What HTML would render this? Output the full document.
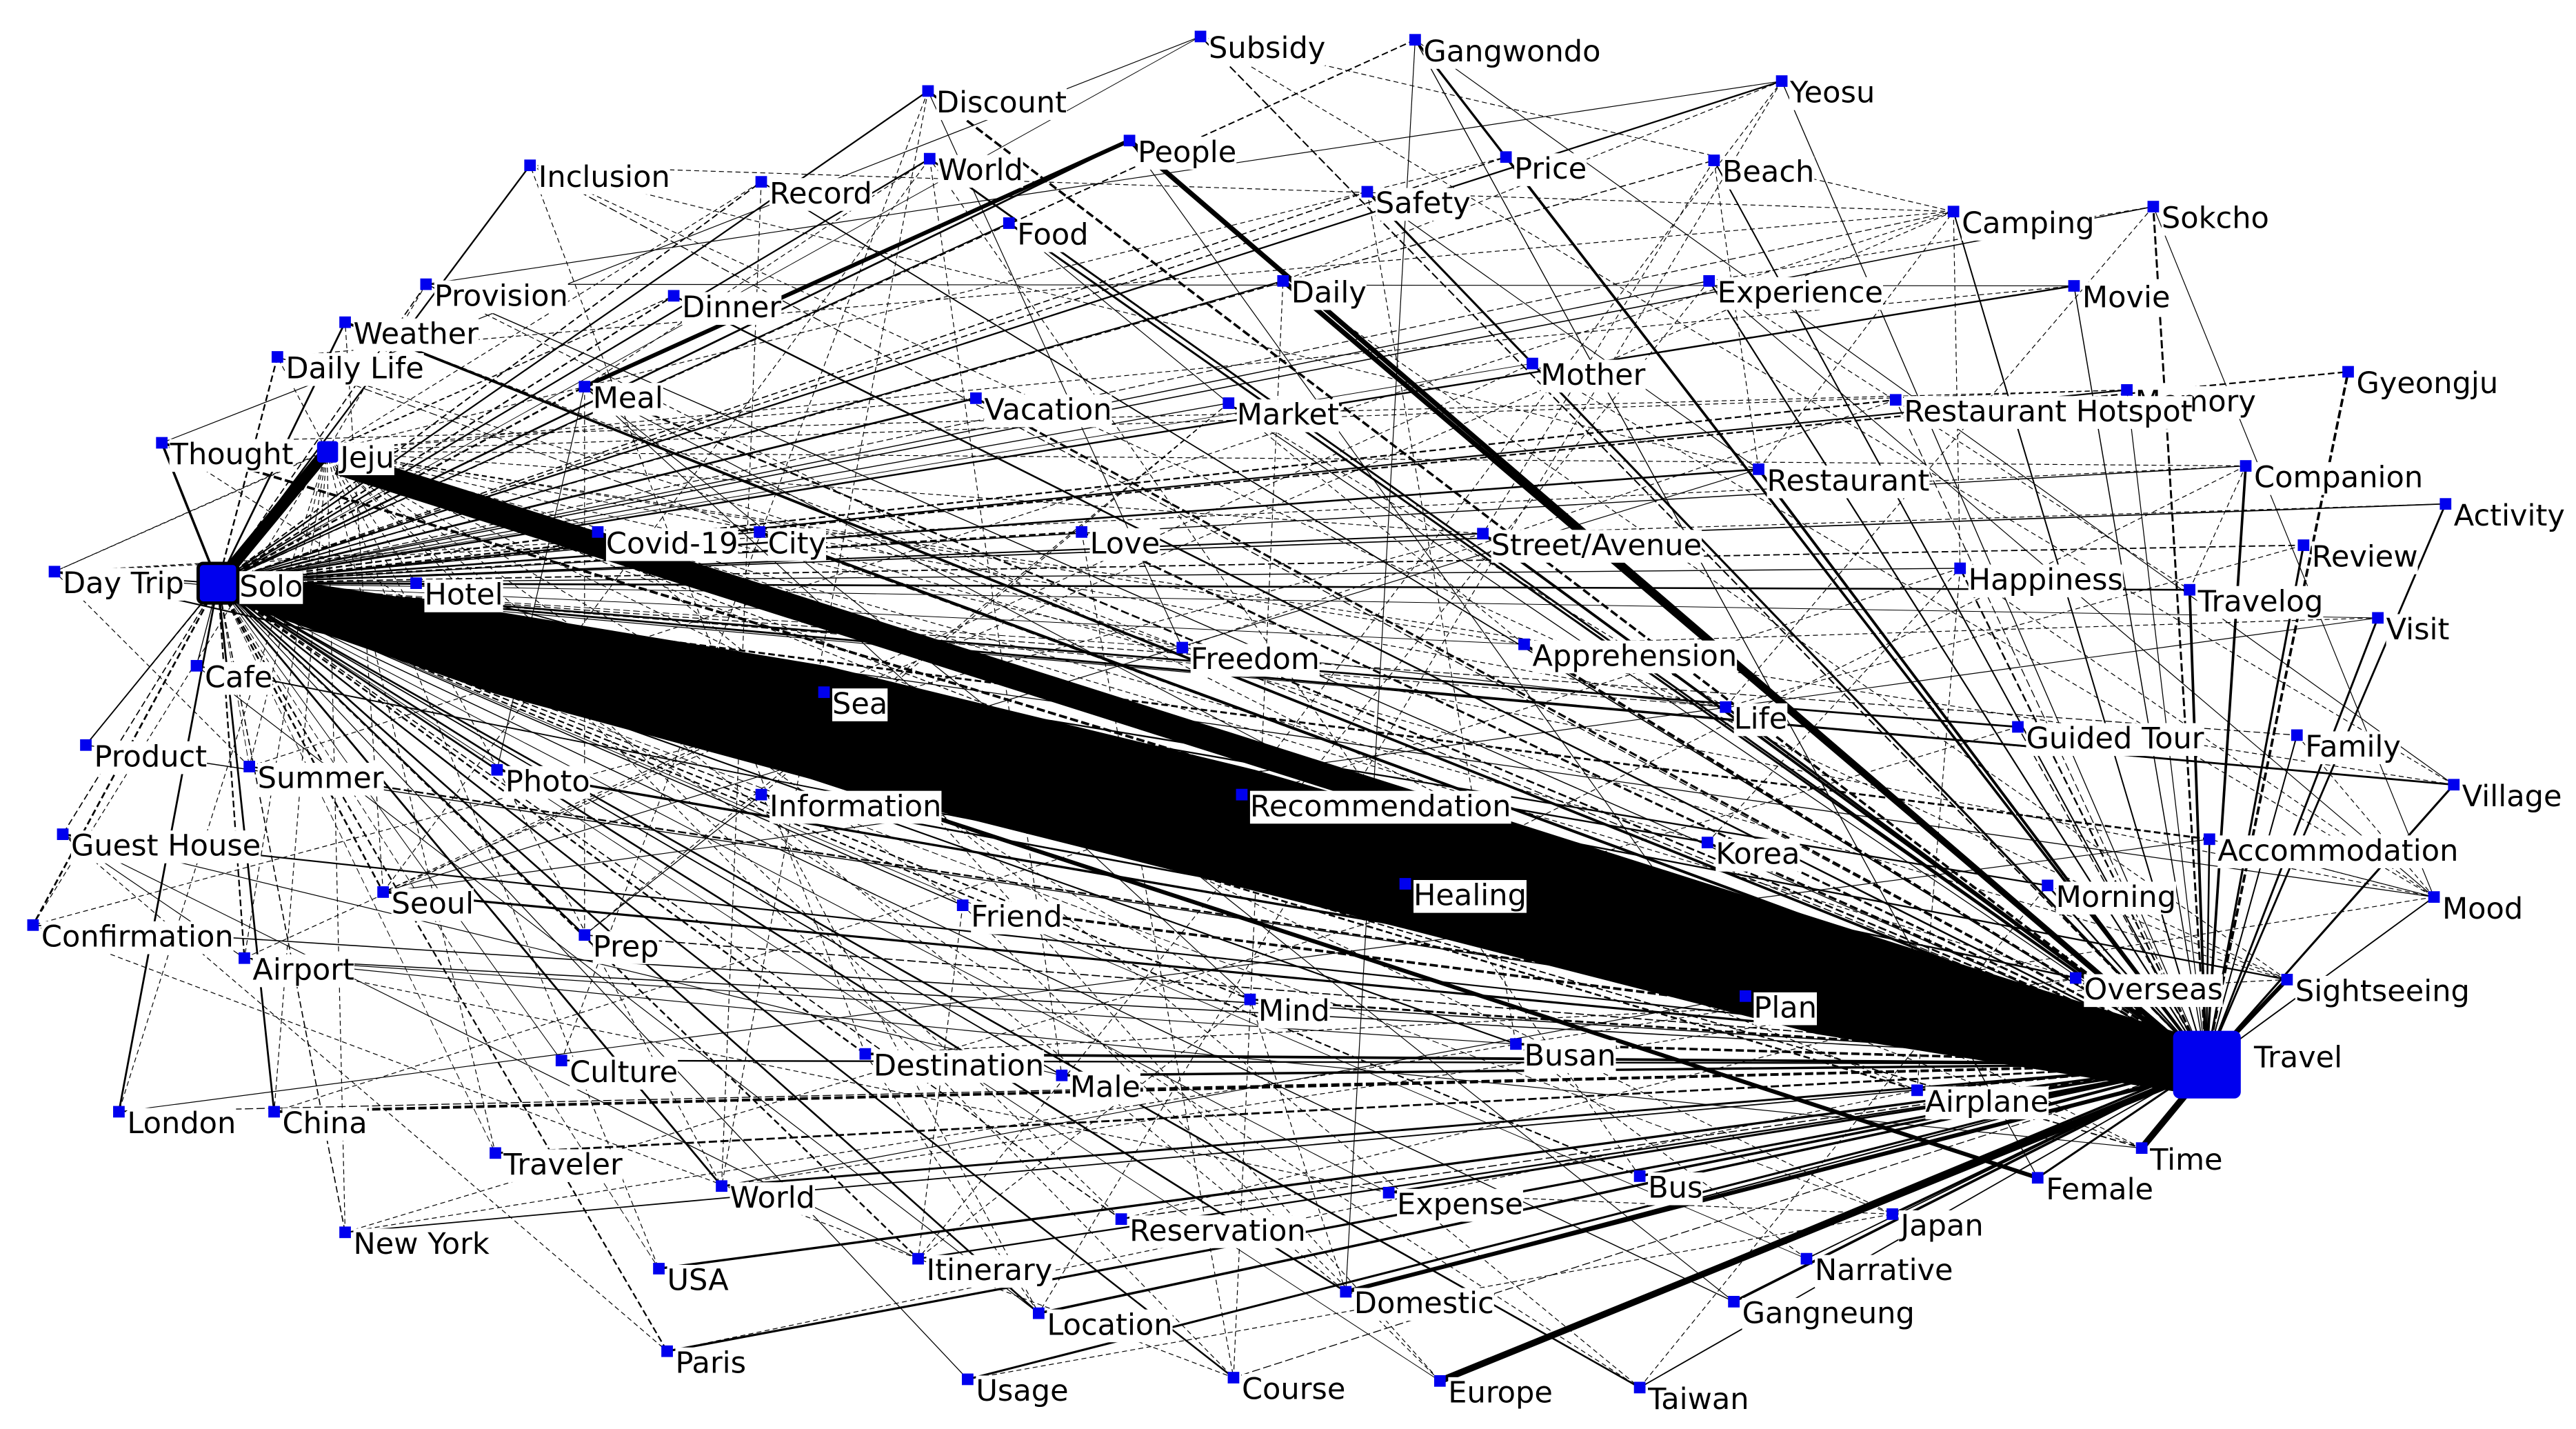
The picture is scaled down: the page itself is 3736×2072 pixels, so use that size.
<!DOCTYPE html>
<html><head><meta charset="utf-8"><style>
html,body{margin:0;padding:0;background:#fff;width:3736px;height:2072px;overflow:hidden}
svg{display:block}
text{font-family:"DejaVu Sans","Liberation Sans",sans-serif;font-size:18px;fill:#000}
</style></head><body>
<svg id="s" width="3736" height="2072" viewBox="0 0 1560 865" xmlns="http://www.w3.org/2000/svg">
<g id="edges"></g>
<g id="bands" fill="#000">
<polygon points="140,346 300,370 500,403 760,466 1050,550 1320,628 1325,662 1100,626 850,562 500,474 300,420 140,364"/>
<line x1="205" y1="280" x2="1325" y2="635" stroke="#000" stroke-width="15"/>
<line x1="132" y1="353" x2="198" y2="273" stroke="#000" stroke-width="7"/>
<line x1="684" y1="85" x2="354" y2="234" stroke="#000" stroke-width="2.5"/>
<line x1="684" y1="85" x2="1330" y2="640" stroke="#000" stroke-width="3"/>
<line x1="777" y1="170" x2="1330" y2="640" stroke="#000" stroke-width="3"/>
<line x1="132" y1="353" x2="1234" y2="713" stroke="#000" stroke-width="2.5"/>
<line x1="872" y1="836" x2="1330" y2="650" stroke="#000" stroke-width="4"/>
<line x1="815" y1="782" x2="1330" y2="650" stroke="#000" stroke-width="2.5"/>
<line x1="1297" y1="695" x2="1330" y2="655" stroke="#000" stroke-width="4"/>
<line x1="1385" y1="593" x2="1345" y2="635" stroke="#000" stroke-width="2.5"/>
<line x1="98" y1="268" x2="132" y2="353" stroke="#000" stroke-width="1.5"/>
</g>
<g id="nodes"></g>
<g id="labels"></g>
</svg>
<script>
var N=[["Subsidy",727,22],["Gangwondo",857,24],["Discount",562,55],["Yeosu",1079,49],["People",684,85],["World",563,96],["Price",912,95],["Beach",1038,97],["Inclusion",321,100],["Record",461,110],["Safety",828,116],["Camping",1183,128],["Sokcho",1304,125],["Food",611,135],["Daily",777,170],["Experience",1035,170],["Movie",1256,173],["Provision",258,172],["Dinner",408,179],["Weather",209,195],["Daily Life",168,216],["Mother",928,220],["Gyeongju",1422,225],["Meal",354,234],["Memory",1288,236],["Vacation",591,241],["Market",744,244],["Restaurant Hotspot",1148,242],["Thought",98,268],["Restaurant",1065,284],["Companion",1360,282],["Activity",1481,305],["Covid-19",362,322],["City",460,322],["Love",655,322],["Street/Avenue",898,323],["Review",1395,330],["Day Trip",33,346],["Hotel",252,353],["Happiness",1187,344],["Travelog",1326,357],["Visit",1440,374],["Freedom",716,392],["Apprehension",923,390],["Cafe",119,403],["Sea",499,419],["Life",1045,428],["Guided Tour",1222,440],["Family",1391,445],["Product",52,451],["Summer",151,464],["Photo",301,466],["Village",1486,475],["Information",461,481],["Recommendation",752,481],["Accommodation",1338,508],["Guest House",38,505],["Korea",1034,510],["Healing",851,535],["Morning",1240,536],["Seoul",232,540],["Mood",1474,543],["Friend",583,548],["Confirmation",20,560],["Prep",354,566],["Airport",148,580],["Overseas",1257,592],["Sightseeing",1385,593],["Plan",1057,603],["Mind",757,605],["Busan",918,632],["Culture",340,642],["Destination",524,638],["Male",643,651],["Airplane",1161,660],["London",72,673],["China",166,673],["Traveler",300,698],["Time",1297,695],["Bus",993,712],["Female",1234,713],["World",437,718],["Expense",841,722],["Reservation",679,738],["New York",209,746],["Japan",1146,735],["Itinerary",556,762],["Narrative",1094,762],["USA",399,768],["Domestic",815,782],["Gangneung",1050,788],["Location",629,795],["Paris",404,818],["Usage",586,835],["Course",747,834],["Europe",872,836],["Taiwan",993,840]];
var NS="http://www.w3.org/2000/svg";
function el(t,a,p){var e=document.createElementNS(NS,t);for(var k in a)e.setAttribute(k,a[k]);p.appendChild(e);return e;}
var E=document.getElementById("edges"),G=document.getElementById("nodes"),L=document.getElementById("labels");
var seed=7;function r(){seed=(seed*16807)%2147483647;return seed/2147483647;}
var S=[132,353],T=[1336,644],J=[198,273];
N.forEach(function(n){
 el("line",{x1:S[0],y1:S[1],x2:n[1],y2:n[2],stroke:"#000","stroke-width":(0.4+r()*0.8).toFixed(2),"stroke-dasharray":r()<0.5?"4,2":"none"},E);
 el("line",{x1:T[0],y1:T[1],x2:n[1],y2:n[2],stroke:"#000","stroke-width":(0.5+r()*1.2).toFixed(2),"stroke-dasharray":r()<0.3?"5,2":"none"},E);
 if(r()<0.35)el("line",{x1:J[0],y1:J[1],x2:n[1],y2:n[2],stroke:"#000","stroke-width":"0.5","stroke-dasharray":"3,2"},E);
});
for(var i=0;i<120;i++){var a=N[Math.floor(r()*N.length)],b=N[Math.floor(r()*N.length)];if(a===b)continue;
 el("line",{x1:a[1],y1:a[2],x2:b[1],y2:b[2],stroke:"#000","stroke-width":"0.5","stroke-dasharray":r()<0.75?"3,2":"none"},E);}
N.forEach(function(n){
 el("rect",{x:n[1]-3.5,y:n[2]-3.5,width:7,height:7,fill:"#0000ee"},G);
 var t=el("text",{x:n[1]+5,y:n[2]+13},L);t.textContent=n[0];
});
el("rect",{x:120,y:341,width:24,height:24,rx:3,fill:"#0000ee",stroke:"#000","stroke-width":2},G);
el("rect",{x:192,y:267,width:13,height:13,rx:2,fill:"#0000ee"},G);
el("rect",{x:1316,y:624,width:41,height:41,rx:4,fill:"#0000ee"},G);
[["Solo",145,361],["Jeju",206,283],["Travel",1365,646]].forEach(function(n){var t=el("text",{x:n[1],y:n[2]},L);t.textContent=n[0];});
var ts=L.querySelectorAll("text");
for(var k=0;k<ts.length;k++){var b=ts[k].getBBox();var bg=document.createElementNS(NS,"rect");bg.setAttribute("x",b.x);bg.setAttribute("y",b.y+1);bg.setAttribute("width",b.width);bg.setAttribute("height",b.height-1);bg.setAttribute("fill","#fff");L.insertBefore(bg,ts[k]);}
</script>
</body></html>
